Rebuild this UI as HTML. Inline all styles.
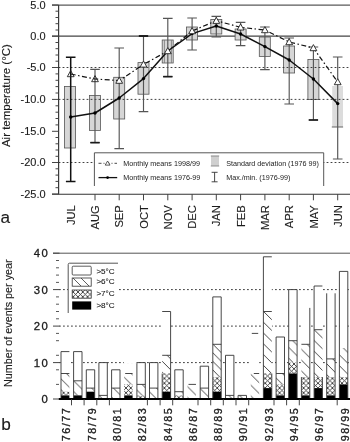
<!DOCTYPE html>
<html><head><meta charset="utf-8"><title>Figure</title>
<style>
html,body{margin:0;padding:0;background:#fff}
body{width:350px;height:442px;overflow:hidden}
svg{display:block}
text{font-family:"Liberation Sans",Arial,sans-serif;fill:#1c1c1c;stroke:#1c1c1c;stroke-width:.12px}
text.sm{stroke:none;fill:#222}
text.bd{stroke-width:.32px}
</style></head><body>
<svg width="350" height="442" viewBox="0 0 350 442">
<defs>
<pattern id="pd" patternUnits="userSpaceOnUse" width="10.8" height="10.8" x="0" y="4.7"><rect width="10.8" height="10.8" fill="#fff"/><path d="M-1,-1L11.8,11.8" stroke="#333" stroke-width="0.9" fill="none"/></pattern>
<pattern id="pd2" patternUnits="userSpaceOnUse" width="8.6" height="8.6" x="212.9" y="352.9"><rect width="8.6" height="8.6" fill="#fff"/><path d="M-1,-1L9.6,9.6" stroke="#333" stroke-width="0.9" fill="none"/></pattern>
<pattern id="px" patternUnits="userSpaceOnUse" width="4.8" height="4.8" x="1.2" y="4"><rect width="4.8" height="4.8" fill="#fff"/><path d="M-1,-1L5.8,5.8M-1,5.8L5.8,-1" stroke="#2a2a2a" stroke-width="0.85" fill="none"/></pattern>
</defs>
<rect width="350" height="442" fill="#fff"/>
<g id="chart-a">
<line x1="52" y1="5.0" x2="350" y2="5.0" stroke="#5a5a5a" stroke-width="1.25"/>
<line x1="52" y1="36.2" x2="350" y2="36.2" stroke="#444" stroke-width="1.2"/>
<line x1="58.6" y1="5.0" x2="58.6" y2="194.2" stroke="#3a3a3a" stroke-width="1.2"/>
<line x1="52" y1="194.2" x2="350" y2="194.2" stroke="#333" stroke-width="1.1"/>
<line x1="52" y1="5.0" x2="58.6" y2="5.0" stroke="#444" stroke-width="1"/>
<line x1="52" y1="36.2" x2="58.6" y2="36.2" stroke="#444" stroke-width="1"/>
<line x1="52" y1="67.5" x2="58.6" y2="67.5" stroke="#444" stroke-width="1"/>
<line x1="52" y1="99.4" x2="58.6" y2="99.4" stroke="#444" stroke-width="1"/>
<line x1="52" y1="131.3" x2="58.6" y2="131.3" stroke="#444" stroke-width="1"/>
<line x1="52" y1="162.5" x2="58.6" y2="162.5" stroke="#444" stroke-width="1"/>
<line x1="52" y1="194.0" x2="58.6" y2="194.0" stroke="#444" stroke-width="1"/>
<line x1="55.5" y1="11.2" x2="58.6" y2="11.2" stroke="#444" stroke-width="1"/>
<line x1="55.5" y1="17.5" x2="58.6" y2="17.5" stroke="#444" stroke-width="1"/>
<line x1="55.5" y1="23.7" x2="58.6" y2="23.7" stroke="#444" stroke-width="1"/>
<line x1="55.5" y1="30.0" x2="58.6" y2="30.0" stroke="#444" stroke-width="1"/>
<line x1="55.5" y1="42.5" x2="58.6" y2="42.5" stroke="#444" stroke-width="1"/>
<line x1="55.5" y1="48.7" x2="58.6" y2="48.7" stroke="#444" stroke-width="1"/>
<line x1="55.5" y1="55.0" x2="58.6" y2="55.0" stroke="#444" stroke-width="1"/>
<line x1="55.5" y1="61.2" x2="58.6" y2="61.2" stroke="#444" stroke-width="1"/>
<line x1="55.5" y1="73.9" x2="58.6" y2="73.9" stroke="#444" stroke-width="1"/>
<line x1="55.5" y1="80.3" x2="58.6" y2="80.3" stroke="#444" stroke-width="1"/>
<line x1="55.5" y1="86.6" x2="58.6" y2="86.6" stroke="#444" stroke-width="1"/>
<line x1="55.5" y1="93.0" x2="58.6" y2="93.0" stroke="#444" stroke-width="1"/>
<line x1="55.5" y1="105.8" x2="58.6" y2="105.8" stroke="#444" stroke-width="1"/>
<line x1="55.5" y1="112.2" x2="58.6" y2="112.2" stroke="#444" stroke-width="1"/>
<line x1="55.5" y1="118.5" x2="58.6" y2="118.5" stroke="#444" stroke-width="1"/>
<line x1="55.5" y1="124.9" x2="58.6" y2="124.9" stroke="#444" stroke-width="1"/>
<line x1="55.5" y1="137.5" x2="58.6" y2="137.5" stroke="#444" stroke-width="1"/>
<line x1="55.5" y1="143.8" x2="58.6" y2="143.8" stroke="#444" stroke-width="1"/>
<line x1="55.5" y1="150.0" x2="58.6" y2="150.0" stroke="#444" stroke-width="1"/>
<line x1="55.5" y1="156.3" x2="58.6" y2="156.3" stroke="#444" stroke-width="1"/>
<line x1="55.5" y1="168.8" x2="58.6" y2="168.8" stroke="#444" stroke-width="1"/>
<line x1="55.5" y1="175.1" x2="58.6" y2="175.1" stroke="#444" stroke-width="1"/>
<line x1="55.5" y1="181.4" x2="58.6" y2="181.4" stroke="#444" stroke-width="1"/>
<line x1="55.5" y1="187.7" x2="58.6" y2="187.7" stroke="#444" stroke-width="1"/>
<text x="45.6" y="8.8" font-size="11" text-anchor="end">5.0</text>
<text x="45.6" y="40.1" font-size="11" text-anchor="end">0.0</text>
<text x="45.6" y="71.3" font-size="11" text-anchor="end">-5.0</text>
<text x="45.6" y="103.2" font-size="11" text-anchor="end">-10.0</text>
<text x="45.6" y="135.2" font-size="11" text-anchor="end">-15.0</text>
<text x="45.6" y="166.3" font-size="11" text-anchor="end">-20.0</text>
<text x="45.6" y="197.8" font-size="11" text-anchor="end">-25.0</text>
<text transform="translate(10.2,95.6) rotate(-90)" font-size="11.5" text-anchor="middle">Air temperature (°C)</text>
<text transform="translate(74.8,205.2) rotate(-90)" font-size="11.2" text-anchor="end">JUL</text>
<line x1="95.0" y1="194" x2="95.0" y2="200.3" stroke="#444" stroke-width="1"/>
<text transform="translate(99.1,205.2) rotate(-90)" font-size="11.2" text-anchor="end">AUG</text>
<line x1="119.2" y1="194" x2="119.2" y2="200.3" stroke="#444" stroke-width="1"/>
<text transform="translate(123.3,205.2) rotate(-90)" font-size="11.2" text-anchor="end">SEP</text>
<line x1="143.5" y1="194" x2="143.5" y2="200.3" stroke="#444" stroke-width="1"/>
<text transform="translate(147.6,205.2) rotate(-90)" font-size="11.2" text-anchor="end">OCT</text>
<line x1="167.8" y1="194" x2="167.8" y2="200.3" stroke="#444" stroke-width="1"/>
<text transform="translate(171.9,205.2) rotate(-90)" font-size="11.2" text-anchor="end">NOV</text>
<line x1="192.1" y1="194" x2="192.1" y2="200.3" stroke="#444" stroke-width="1"/>
<text transform="translate(196.2,205.2) rotate(-90)" font-size="11.2" text-anchor="end">DEC</text>
<line x1="216.3" y1="194" x2="216.3" y2="200.3" stroke="#444" stroke-width="1"/>
<text transform="translate(220.4,205.2) rotate(-90)" font-size="11.2" text-anchor="end">JAN</text>
<line x1="240.6" y1="194" x2="240.6" y2="200.3" stroke="#444" stroke-width="1"/>
<text transform="translate(244.7,205.2) rotate(-90)" font-size="11.2" text-anchor="end">FEB</text>
<line x1="264.9" y1="194" x2="264.9" y2="200.3" stroke="#444" stroke-width="1"/>
<text transform="translate(269.0,205.2) rotate(-90)" font-size="11.2" text-anchor="end">MAR</text>
<line x1="289.2" y1="194" x2="289.2" y2="200.3" stroke="#444" stroke-width="1"/>
<text transform="translate(293.3,205.2) rotate(-90)" font-size="11.2" text-anchor="end">APR</text>
<line x1="313.4" y1="194" x2="313.4" y2="200.3" stroke="#444" stroke-width="1"/>
<text transform="translate(317.5,205.2) rotate(-90)" font-size="11.2" text-anchor="end">MAY</text>
<line x1="337.7" y1="194" x2="337.7" y2="200.3" stroke="#444" stroke-width="1"/>
<text transform="translate(341.8,205.2) rotate(-90)" font-size="11.2" text-anchor="end">JUN</text>
<rect x="64.5" y="86.4" width="11" height="61.6" fill="#d6d6d6" stroke="#555" stroke-width="0.8"/>
<rect x="89.4" y="95.4" width="11" height="35.0" fill="#d6d6d6" stroke="#555" stroke-width="0.8"/>
<rect x="113.7" y="77.3" width="11" height="41.7" fill="#d6d6d6" stroke="#555" stroke-width="0.8"/>
<rect x="138.0" y="62.6" width="11" height="31.6" fill="#d6d6d6" stroke="#555" stroke-width="0.8"/>
<rect x="162.2" y="40" width="11" height="23.0" fill="#d6d6d6" stroke="#555" stroke-width="0.8"/>
<rect x="186.5" y="27" width="11" height="13.0" fill="#d6d6d6" stroke="#555" stroke-width="0.8"/>
<rect x="210.8" y="19.4" width="11" height="14.6" fill="#d6d6d6" stroke="#555" stroke-width="0.8"/>
<rect x="235.1" y="29" width="11" height="11.0" fill="#d6d6d6" stroke="#555" stroke-width="0.8"/>
<rect x="259.3" y="37" width="11" height="19.4" fill="#d6d6d6" stroke="#555" stroke-width="0.8"/>
<rect x="283.6" y="46" width="11" height="27.0" fill="#d6d6d6" stroke="#555" stroke-width="0.8"/>
<rect x="307.9" y="59.4" width="11" height="40.2" fill="#d6d6d6" stroke="#555" stroke-width="0.8"/>
<rect x="332.2" y="86" width="10.8" height="41.0" fill="#dcdcdc"/>
<path d="M331.8,127H343.1" stroke="#555" stroke-width="0.9" fill="none"/>
<line x1="58.6" y1="67.5" x2="350" y2="67.5" stroke="#2a2a2a" stroke-width="0.9" stroke-dasharray="1.8 2.2"/>
<line x1="58.6" y1="99.4" x2="350" y2="99.4" stroke="#2a2a2a" stroke-width="0.9" stroke-dasharray="1.8 2.2"/>
<line x1="58.6" y1="162.5" x2="350" y2="162.5" stroke="#2a2a2a" stroke-width="0.9" stroke-dasharray="1.8 2.2"/>
<path d="M70.7,57.2V181.4M65.9,57.2H75.5M65.9,181.4H75.5" stroke="#111" stroke-width="1.5" fill="none"/>
<path d="M95.0,69.4V142.6M90.2,69.4H99.8M90.2,142.6H99.8" stroke="#555" stroke-width="1.15" fill="none"/>
<path d="M90.4,142.6H99.6" stroke="#1a1a1a" stroke-width="1.6" fill="none"/>
<path d="M119.2,48V148.6M114.4,48H124.0M114.4,148.6H124.0" stroke="#555" stroke-width="1.15" fill="none"/>
<path d="M143.5,36V111.6M138.7,36H148.3M138.7,111.6H148.3" stroke="#555" stroke-width="1.15" fill="none"/>
<path d="M138.9,36H148.1" stroke="#111" stroke-width="1.7" fill="none"/>
<path d="M167.8,18.4V76.6M163.0,18.4H172.6M163.0,76.6H172.6" stroke="#555" stroke-width="1.15" fill="none"/>
<path d="M163.2,76.6H172.4" stroke="#1a1a1a" stroke-width="1.6" fill="none"/>
<path d="M164.4,40V63M171.4,40V63" stroke="#777" stroke-width="0.8" fill="none"/>
<path d="M192.1,18V50M187.3,18H196.9M187.3,50H196.9" stroke="#555" stroke-width="1.15" fill="none"/>
<path d="M216.3,16.4V37M211.5,16.4H221.1M211.5,37H221.1" stroke="#555" stroke-width="1.15" fill="none"/>
<path d="M240.6,22.4V45.6M235.8,22.4H245.4M235.8,45.6H245.4" stroke="#555" stroke-width="1.15" fill="none"/>
<path d="M264.9,27V69.6M260.1,27H269.7M260.1,69.6H269.7" stroke="#555" stroke-width="1.15" fill="none"/>
<path d="M289.2,38V104M284.4,38H294.0M284.4,104H294.0" stroke="#555" stroke-width="1.15" fill="none"/>
<path d="M313.4,47V120M308.6,47H318.2M308.6,120H318.2" stroke="#555" stroke-width="1.15" fill="none"/>
<path d="M308.8,120H318.0" stroke="#1a1a1a" stroke-width="1.6" fill="none"/>
<path d="M337.7,57V159M332.9,57H342.5M332.9,159H342.5" stroke="#555" stroke-width="1.15" fill="none"/>
<polyline points="70.7,74 95.0,79 119.2,80.6 143.5,64.4 167.8,51 192.1,31 216.3,20.7 240.6,27.3 264.9,30 289.2,42 313.4,48 337.7,82" fill="none" stroke="#111" stroke-width="1.2" stroke-dasharray="5 2.5 1.5 2.5"/>
<polyline points="70.7,117 95.0,113 119.2,98 143.5,78.6 167.8,51 192.1,33.6 216.3,26 240.6,34 264.9,46.6 289.2,60 313.4,79 337.7,103.6" fill="none" stroke="#111" stroke-width="1.5" stroke-linejoin="round"/>
<circle cx="70.7" cy="117" r="1.7" fill="#000"/>
<circle cx="95.0" cy="113" r="1.7" fill="#000"/>
<circle cx="119.2" cy="98" r="1.7" fill="#000"/>
<circle cx="143.5" cy="78.6" r="1.7" fill="#000"/>
<circle cx="167.8" cy="51" r="1.7" fill="#000"/>
<circle cx="192.1" cy="33.6" r="1.7" fill="#000"/>
<circle cx="216.3" cy="26" r="1.7" fill="#000"/>
<circle cx="240.6" cy="34" r="1.7" fill="#000"/>
<circle cx="264.9" cy="46.6" r="1.7" fill="#000"/>
<circle cx="289.2" cy="60" r="1.7" fill="#000"/>
<circle cx="313.4" cy="79" r="1.7" fill="#000"/>
<circle cx="337.7" cy="103.6" r="1.7" fill="#000"/>
<path d="M70.7,70.6L74.1,76.7H67.3Z" fill="none" stroke="#222" stroke-width="0.9"/>
<path d="M95.0,75.6L98.4,81.7H91.6Z" fill="none" stroke="#222" stroke-width="0.9"/>
<path d="M119.2,77.2L122.6,83.3H115.8Z" fill="#fff" stroke="#222" stroke-width="0.9"/>
<path d="M143.5,61.0L146.9,67.1H140.1Z" fill="#fff" stroke="#222" stroke-width="0.9"/>
<path d="M167.8,47.6L171.2,53.7H164.4Z" fill="#fff" stroke="#222" stroke-width="0.9"/>
<path d="M192.1,27.6L195.5,33.7H188.7Z" fill="#fff" stroke="#222" stroke-width="0.9"/>
<path d="M216.3,17.3L219.7,23.4H212.9Z" fill="#fff" stroke="#222" stroke-width="0.9"/>
<path d="M240.6,23.9L244.0,30.0H237.2Z" fill="#fff" stroke="#222" stroke-width="0.9"/>
<path d="M264.9,26.6L268.3,32.7H261.5Z" fill="#fff" stroke="#222" stroke-width="0.9"/>
<path d="M289.2,38.6L292.6,44.7H285.8Z" fill="#fff" stroke="#222" stroke-width="0.9"/>
<path d="M313.4,44.6L316.8,50.7H310.0Z" fill="#fff" stroke="#222" stroke-width="0.9"/>
<path d="M337.7,78.6L341.1,84.7H334.3Z" fill="#fff" stroke="#222" stroke-width="0.9"/>
<rect x="94.4" y="152.8" width="229.2" height="33.2" fill="#fff"/>
<path d="M94.4,186V152.8H323.7V186" fill="none" stroke="#444" stroke-width="0.9"/>
<line x1="98.5" y1="163.3" x2="117" y2="163.3" stroke="#333" stroke-width="0.9" stroke-dasharray="3 2 1 2"/>
<path d="M107.6,161L110,165.1H105.2Z" fill="#fff" stroke="#333" stroke-width="0.8"/>
<line x1="98.5" y1="177.6" x2="117.2" y2="177.6" stroke="#111" stroke-width="1.3"/>
<circle cx="107.6" cy="177.6" r="1.4" fill="#000"/>
<text x="123.2" y="165.8" font-size="7.2" class="sm">Monthly means 1998/99</text>
<text x="123.2" y="180.2" font-size="7.2" class="sm">Monthly means 1976-99</text>
<rect x="211" y="155.8" width="8" height="10.2" fill="#cfcfcf"/>
<path d="M210.8,156H219.2M210.8,166H219.2" stroke="#777" stroke-width="0.8" fill="none"/>
<path d="M214.6,172.3V181.8M211.6,172.3H217.6M211.6,181.8H217.6" stroke="#333" stroke-width="0.9" fill="none"/>
<text x="226.2" y="165.6" font-size="7.2" class="sm">Standard deviation (1976 99)</text>
<text x="226.2" y="179.8" font-size="7.2" class="sm">Max./min. (1976-99)</text>
<text x="0.6" y="223.1" font-size="17.2">a</text>
</g>
<g id="chart-b">
<line x1="59" y1="362.6" x2="350" y2="362.6" stroke="#2a2a2a" stroke-width="0.9" stroke-dasharray="1.8 2.2"/>
<line x1="59" y1="326.1" x2="350" y2="326.1" stroke="#2a2a2a" stroke-width="0.9" stroke-dasharray="1.8 2.2"/>
<line x1="59" y1="289.6" x2="350" y2="289.6" stroke="#2a2a2a" stroke-width="0.9" stroke-dasharray="1.8 2.2"/>
<line x1="53" y1="253.2" x2="350" y2="253.2" stroke="#555" stroke-width="1"/>
<line x1="53" y1="399.0" x2="59.5" y2="399.0" stroke="#444" stroke-width="1"/>
<text class="bd" x="47.7" y="403.1" font-size="11.3" text-anchor="end">0</text>
<line x1="53" y1="362.6" x2="59.5" y2="362.6" stroke="#444" stroke-width="1"/>
<text class="bd" x="49.4" y="366.7" font-size="11.3" text-anchor="end" letter-spacing="1.5">10</text>
<line x1="53" y1="326.1" x2="59.5" y2="326.1" stroke="#444" stroke-width="1"/>
<text class="bd" x="49.4" y="330.2" font-size="11.3" text-anchor="end" letter-spacing="1.5">20</text>
<line x1="53" y1="289.6" x2="59.5" y2="289.6" stroke="#444" stroke-width="1"/>
<text class="bd" x="49.4" y="293.8" font-size="11.3" text-anchor="end" letter-spacing="1.5">30</text>
<line x1="53" y1="253.2" x2="59.5" y2="253.2" stroke="#444" stroke-width="1"/>
<text class="bd" x="49.4" y="257.3" font-size="11.3" text-anchor="end" letter-spacing="1.5">40</text>
<line x1="56" y1="384.4" x2="59" y2="384.4" stroke="#444" stroke-width="0.9"/>
<line x1="56" y1="369.8" x2="59" y2="369.8" stroke="#444" stroke-width="0.9"/>
<line x1="56" y1="355.3" x2="59" y2="355.3" stroke="#444" stroke-width="0.9"/>
<line x1="56" y1="340.7" x2="59" y2="340.7" stroke="#444" stroke-width="0.9"/>
<line x1="56" y1="333.4" x2="59" y2="333.4" stroke="#444" stroke-width="0.9"/>
<line x1="56" y1="318.8" x2="59" y2="318.8" stroke="#444" stroke-width="0.9"/>
<line x1="56" y1="311.5" x2="59" y2="311.5" stroke="#444" stroke-width="0.9"/>
<line x1="56" y1="304.2" x2="59" y2="304.2" stroke="#444" stroke-width="0.9"/>
<line x1="56" y1="296.9" x2="59" y2="296.9" stroke="#444" stroke-width="0.9"/>
<line x1="56" y1="282.4" x2="59" y2="282.4" stroke="#444" stroke-width="0.9"/>
<line x1="56" y1="275.1" x2="59" y2="275.1" stroke="#444" stroke-width="0.9"/>
<line x1="56" y1="267.8" x2="59" y2="267.8" stroke="#444" stroke-width="0.9"/>
<line x1="56" y1="260.5" x2="59" y2="260.5" stroke="#444" stroke-width="0.9"/>
<text transform="translate(12.4,323.2) rotate(-90)" font-size="10.8" text-anchor="middle">Number of events per year</text>
<rect x="61.0" y="351.6" width="8.4" height="47.4" fill="#fff"/>
<rect x="61.0" y="373.5" width="8.4" height="18.2" fill="url(#pd)"/>
<rect x="61.0" y="391.7" width="8.4" height="3.6" fill="url(#px)"/>
<rect x="61.0" y="395.4" width="8.4" height="3.6" fill="#000"/>
<path d="M61.0,351.6V399.0M61.0,351.6H69.4M61.0,373.5H69.4" fill="none" stroke="#333" stroke-width="0.9"/>
<rect x="73.6" y="351.6" width="8.4" height="47.4" fill="#fff"/>
<rect x="73.6" y="380.8" width="8.4" height="14.6" fill="url(#pd)"/>
<rect x="73.6" y="395.4" width="8.4" height="3.6" fill="#000"/>
<path d="M73.6,351.6V399.0M82.0,351.6V399.0M73.6,351.6H82.0M73.6,380.8H82.0" fill="none" stroke="#333" stroke-width="0.9"/>
<rect x="86.3" y="369.8" width="8.4" height="29.2" fill="#fff"/>
<rect x="86.3" y="388.1" width="8.4" height="3.6" fill="url(#pd)"/>
<rect x="86.3" y="391.7" width="8.4" height="7.3" fill="#000"/>
<path d="M86.3,369.8V399.0M94.7,369.8V399.0M86.3,369.8H94.7M86.3,388.1H94.7" fill="none" stroke="#333" stroke-width="0.9"/>
<rect x="98.9" y="362.6" width="8.4" height="36.5" fill="#fff"/>
<rect x="98.9" y="395.4" width="8.4" height="3.6" fill="url(#pd)"/>
<path d="M98.9,362.6V399.0M107.3,362.6V399.0M98.9,362.6H107.3M98.9,395.4H107.3" fill="none" stroke="#333" stroke-width="0.9"/>
<rect x="111.6" y="369.8" width="8.4" height="29.2" fill="#fff"/>
<rect x="111.6" y="388.1" width="8.4" height="10.9" fill="url(#pd)"/>
<path d="M111.6,369.8V399.0M120.0,369.8V399.0M111.6,369.8H120.0M111.6,388.1H120.0" fill="none" stroke="#333" stroke-width="0.9"/>
<rect x="124.2" y="373.5" width="8.4" height="25.5" fill="#fff"/>
<rect x="124.2" y="373.5" width="8.4" height="10.9" fill="url(#pd)"/>
<rect x="124.2" y="384.4" width="8.4" height="10.9" fill="url(#px)"/>
<rect x="124.2" y="395.4" width="8.4" height="3.6" fill="#000"/>
<path d="M125.2,373.5H132.6" fill="none" stroke="#333" stroke-width="0.9"/>
<rect x="136.9" y="362.6" width="8.4" height="36.5" fill="#fff"/>
<rect x="136.9" y="384.4" width="8.4" height="10.9" fill="url(#pd)"/>
<rect x="136.9" y="395.4" width="8.4" height="3.6" fill="url(#px)"/>
<path d="M136.9,362.6V399.0M145.3,362.6V399.0M136.9,362.6H145.3M136.9,384.4H145.3" fill="none" stroke="#333" stroke-width="0.9"/>
<rect x="149.5" y="362.6" width="8.4" height="36.5" fill="#fff"/>
<rect x="149.5" y="388.1" width="8.4" height="10.9" fill="url(#pd)"/>
<path d="M149.5,362.6V399.0M157.9,362.6V399.0M149.5,362.6H157.9M149.5,388.1H157.9" fill="none" stroke="#333" stroke-width="0.9"/>
<rect x="162.2" y="311.5" width="8.4" height="87.5" fill="#fff"/>
<rect x="162.2" y="355.3" width="8.4" height="18.2" fill="url(#pd)"/>
<rect x="162.2" y="373.5" width="8.4" height="18.2" fill="url(#px)"/>
<rect x="162.2" y="391.7" width="8.4" height="7.3" fill="#000"/>
<path d="M162.2,373.5V399.0M170.6,311.5V399.0M162.2,311.5H170.6M162.2,355.3H170.6" fill="none" stroke="#333" stroke-width="0.9"/>
<rect x="174.8" y="369.8" width="8.4" height="29.2" fill="#fff"/>
<rect x="174.8" y="391.7" width="8.4" height="3.6" fill="url(#pd)"/>
<rect x="174.8" y="395.4" width="8.4" height="3.6" fill="url(#px)"/>
<path d="M174.8,369.8V399.0M183.2,369.8V399.0M174.8,369.8H183.2M174.8,391.7H183.2" fill="none" stroke="#333" stroke-width="0.9"/>
<rect x="187.5" y="384.4" width="8.4" height="14.6" fill="#fff"/>
<rect x="187.5" y="384.4" width="8.4" height="14.6" fill="url(#pd)"/>
<path d="M188.5,384.4H195.9" fill="none" stroke="#333" stroke-width="0.9"/>
<rect x="200.2" y="366.2" width="8.4" height="32.8" fill="#fff"/>
<rect x="200.2" y="388.1" width="8.4" height="10.9" fill="url(#pd)"/>
<path d="M200.2,366.2V399.0M208.6,366.2V399.0M200.2,366.2H208.6M200.2,388.1H208.6" fill="none" stroke="#333" stroke-width="0.9"/>
<rect x="212.8" y="296.9" width="8.4" height="102.1" fill="#fff"/>
<rect x="212.8" y="344.3" width="8.4" height="32.8" fill="url(#pd2)"/>
<rect x="212.8" y="377.1" width="8.4" height="14.6" fill="url(#px)"/>
<rect x="212.8" y="391.7" width="8.4" height="7.3" fill="#000"/>
<path d="M212.8,296.9V399.0M221.2,296.9V399.0M212.8,296.9H221.2M212.8,344.3H221.2" fill="none" stroke="#333" stroke-width="0.9"/>
<rect x="225.5" y="355.3" width="8.4" height="43.7" fill="#fff"/>
<rect x="225.5" y="395.4" width="8.4" height="3.6" fill="url(#pd)"/>
<path d="M225.5,355.3V399.0M233.9,355.3V399.0M225.5,355.3H233.9M225.5,395.4H233.9" fill="none" stroke="#333" stroke-width="0.9"/>
<rect x="238.1" y="395.4" width="8.4" height="3.6" fill="#fff"/>
<rect x="238.1" y="395.4" width="8.4" height="3.6" fill="url(#pd)"/>
<path d="M238.1,395.4V399.0M246.5,395.4V399.0M238.1,395.4H246.5" fill="none" stroke="#333" stroke-width="0.9"/>
<rect x="250.8" y="333.4" width="8.4" height="65.6" fill="#fff"/>
<rect x="250.8" y="373.5" width="8.4" height="25.5" fill="url(#pd)"/>
<path d="M251.8,333.4H258.2M253.8,373.5H259.2" fill="none" stroke="#333" stroke-width="0.9"/>
<rect x="263.4" y="256.8" width="8.4" height="142.2" fill="#fff"/>
<rect x="263.4" y="311.5" width="8.4" height="62.0" fill="url(#pd)"/>
<rect x="263.4" y="373.5" width="8.4" height="14.6" fill="url(#px)"/>
<rect x="263.4" y="388.1" width="8.4" height="10.9" fill="#000"/>
<path d="M263.4,256.8V399.0M271.8,373.5V399.0M263.4,256.8H271.8M263.4,311.5H271.8" fill="none" stroke="#333" stroke-width="0.9"/>
<rect x="276.1" y="337.0" width="8.4" height="62.0" fill="#fff"/>
<rect x="276.1" y="373.5" width="8.4" height="10.9" fill="url(#pd)"/>
<rect x="276.1" y="384.4" width="8.4" height="10.9" fill="url(#px)"/>
<rect x="276.1" y="395.4" width="8.4" height="3.6" fill="#000"/>
<path d="M276.1,337.0V399.0M284.5,337.0V399.0M276.1,337.0H284.5M276.1,373.5H284.5" fill="none" stroke="#333" stroke-width="0.9"/>
<rect x="288.7" y="289.6" width="8.4" height="109.3" fill="#fff"/>
<rect x="288.7" y="340.7" width="8.4" height="21.9" fill="url(#pd)"/>
<rect x="288.7" y="362.6" width="8.4" height="10.9" fill="url(#px)"/>
<rect x="288.7" y="373.5" width="8.4" height="25.5" fill="#000"/>
<path d="M288.7,289.6V399.0M297.1,289.6V399.0M288.7,289.6H297.1M288.7,340.7H297.1" fill="none" stroke="#333" stroke-width="0.9"/>
<rect x="301.4" y="307.9" width="8.4" height="91.1" fill="#fff"/>
<rect x="301.4" y="344.3" width="8.4" height="32.8" fill="url(#pd)"/>
<rect x="301.4" y="377.1" width="8.4" height="18.2" fill="url(#px)"/>
<rect x="301.4" y="395.4" width="8.4" height="3.6" fill="#000"/>
<path d="M301.4,377.1V399.0M309.8,307.9V399.0M301.4,344.3H309.8" fill="none" stroke="#333" stroke-width="0.9"/>
<rect x="314.1" y="286.0" width="8.4" height="113.0" fill="#fff"/>
<rect x="314.1" y="329.7" width="8.4" height="47.4" fill="url(#pd)"/>
<rect x="314.1" y="377.1" width="8.4" height="10.9" fill="url(#px)"/>
<rect x="314.1" y="388.1" width="8.4" height="10.9" fill="#000"/>
<path d="M314.1,286.0V399.0M322.4,377.1V399.0M314.1,286.0H322.4M314.1,329.7H322.4" fill="none" stroke="#333" stroke-width="0.9"/>
<rect x="326.7" y="293.3" width="8.4" height="105.7" fill="#fff"/>
<rect x="326.7" y="358.9" width="8.4" height="18.2" fill="url(#pd)"/>
<rect x="326.7" y="377.1" width="8.4" height="18.2" fill="url(#px)"/>
<rect x="326.7" y="395.4" width="8.4" height="3.6" fill="#000"/>
<path d="M326.7,293.3V399.0M335.1,293.3V399.0M326.7,358.9H335.1" fill="none" stroke="#333" stroke-width="0.9"/>
<rect x="339.4" y="271.4" width="8.4" height="127.6" fill="#fff"/>
<rect x="339.4" y="348.0" width="8.4" height="29.2" fill="url(#pd)"/>
<rect x="339.4" y="377.1" width="8.4" height="7.3" fill="url(#px)"/>
<rect x="339.4" y="384.4" width="8.4" height="14.6" fill="#000"/>
<path d="M339.4,271.4V399.0M347.8,271.4V399.0M339.4,271.4H347.8" fill="none" stroke="#333" stroke-width="0.9"/>
<rect x="123.8" y="361.6" width="12.6" height="2" fill="#fff"/>
<line x1="58.8" y1="399.0" x2="350" y2="399.0" stroke="#000" stroke-width="1.9"/>
<line x1="71.5" y1="399.0" x2="71.5" y2="405.3" stroke="#333" stroke-width="0.9"/>
<line x1="84.1" y1="399.0" x2="84.1" y2="405.3" stroke="#333" stroke-width="0.9"/>
<line x1="96.8" y1="399.0" x2="96.8" y2="405.3" stroke="#333" stroke-width="0.9"/>
<line x1="109.4" y1="399.0" x2="109.4" y2="405.3" stroke="#333" stroke-width="0.9"/>
<line x1="147.4" y1="399.0" x2="147.4" y2="405.3" stroke="#333" stroke-width="0.9"/>
<line x1="160.1" y1="399.0" x2="160.1" y2="405.3" stroke="#333" stroke-width="0.9"/>
<line x1="172.7" y1="399.0" x2="172.7" y2="405.3" stroke="#333" stroke-width="0.9"/>
<line x1="198.0" y1="399.0" x2="198.0" y2="405.3" stroke="#333" stroke-width="0.9"/>
<line x1="210.7" y1="399.0" x2="210.7" y2="405.3" stroke="#333" stroke-width="0.9"/>
<line x1="223.3" y1="399.0" x2="223.3" y2="405.3" stroke="#333" stroke-width="0.9"/>
<line x1="236.0" y1="399.0" x2="236.0" y2="405.3" stroke="#333" stroke-width="0.9"/>
<line x1="248.7" y1="399.0" x2="248.7" y2="405.3" stroke="#333" stroke-width="0.9"/>
<line x1="274.0" y1="399.0" x2="274.0" y2="405.3" stroke="#333" stroke-width="0.9"/>
<line x1="286.6" y1="399.0" x2="286.6" y2="405.3" stroke="#333" stroke-width="0.9"/>
<line x1="299.3" y1="399.0" x2="299.3" y2="405.3" stroke="#333" stroke-width="0.9"/>
<line x1="337.2" y1="399.0" x2="337.2" y2="405.3" stroke="#333" stroke-width="0.9"/>
<text transform="translate(70.2,441.3) rotate(-90)" font-size="10.7" letter-spacing="1.55" class="bd">76/77</text>
<text transform="translate(95.6,441.3) rotate(-90)" font-size="10.7" letter-spacing="1.55" class="bd">78/79</text>
<text transform="translate(120.9,441.3) rotate(-90)" font-size="10.7" letter-spacing="1.55" class="bd">80/81</text>
<text transform="translate(146.2,441.3) rotate(-90)" font-size="10.7" letter-spacing="1.55" class="bd">82/83</text>
<text transform="translate(171.5,441.3) rotate(-90)" font-size="10.7" letter-spacing="1.55" class="bd">84/85</text>
<text transform="translate(196.8,441.3) rotate(-90)" font-size="10.7" letter-spacing="1.55" class="bd">86/87</text>
<text transform="translate(222.1,441.3) rotate(-90)" font-size="10.7" letter-spacing="1.55" class="bd">88/89</text>
<text transform="translate(247.4,441.3) rotate(-90)" font-size="10.7" letter-spacing="1.55" class="bd">90/91</text>
<text transform="translate(272.7,441.3) rotate(-90)" font-size="10.7" letter-spacing="1.55" class="bd">92/93</text>
<text transform="translate(298.0,441.3) rotate(-90)" font-size="10.7" letter-spacing="1.55" class="bd">94/95</text>
<text transform="translate(323.4,441.3) rotate(-90)" font-size="10.7" letter-spacing="1.55" class="bd">96/97</text>
<text transform="translate(348.7,441.3) rotate(-90)" font-size="10.7" letter-spacing="1.55" class="bd">98/99</text>
<rect x="68" y="263" width="50" height="50" fill="#fff"/>
<path d="M68.2,313V264.5Q68.2,263.2 69.5,263.2H118" fill="none" stroke="#555" stroke-width="1"/>
<rect x="72.2" y="266.2" width="19" height="8.8" rx="1" fill="#fff" stroke="#333" stroke-width="0.8"/>
<rect x="72.2" y="278" width="19" height="8.2" fill="#fff" stroke="#333" stroke-width="0.8"/>
<path d="M73,278L81,286M81,278L89,286" stroke="#333" stroke-width="0.8" fill="none"/>
<rect x="72.2" y="290" width="19" height="8.2" fill="url(#px)" stroke="#333" stroke-width="0.8"/>
<rect x="72.2" y="301.4" width="19" height="8.2" fill="#000"/>
<text x="96.4" y="273.6" font-size="8.1">&gt;5°C</text>
<text x="96.4" y="284.4" font-size="8.1">&gt;6°C</text>
<text x="96.4" y="295.8" font-size="8.1">&gt;7°C</text>
<text x="96.4" y="307.6" font-size="8.1">&gt;8°C</text>
<text x="1.2" y="429.6" font-size="17.2">b</text>
</g>
</svg>
</body></html>
